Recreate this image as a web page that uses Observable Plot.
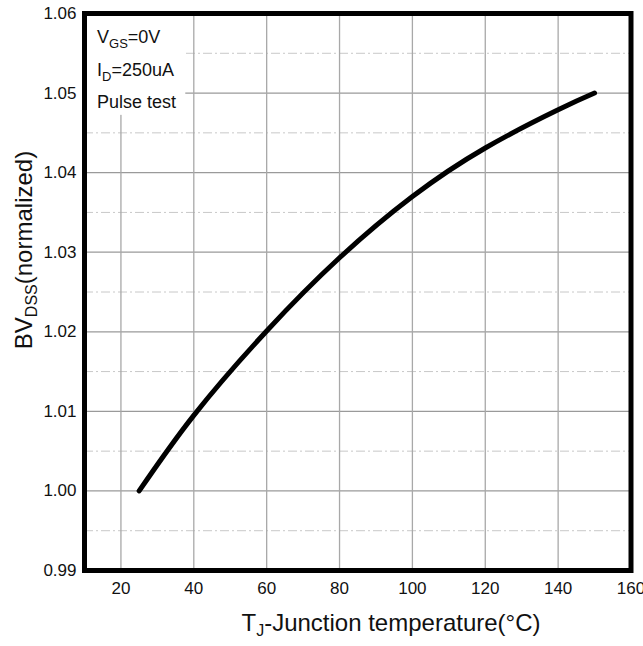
<!DOCTYPE html>
<html>
<head>
<meta charset="utf-8">
<script src="https://cdn.jsdelivr.net/npm/d3@7"></script>
<script src="https://cdn.jsdelivr.net/npm/@observablehq/plot@0.6"></script>
<style>
  html, body { margin: 0; padding: 0; background: #fff; }
  #chart svg { display: block; }
</style>
</head>
<body>
<div id="chart"></div>
<script>
// Junction temperature (°C)
const temps = [25, 40, 60, 80, 100, 120, 140, 150];
// Normalized BVDSS
const bvdss = [1.000, 1.0095, 1.0201, 1.0293, 1.0370, 1.0431, 1.0479, 1.0500];

const xTicks = [20, 40, 60, 80, 100, 120, 140, 160];
const xGrid = [20, 40, 60, 80, 100, 120, 140];
const yTicks = [0.99, 1.00, 1.01, 1.02, 1.03, 1.04, 1.05, 1.06];
const yMinor = [0.995, 1.005, 1.015, 1.025, 1.035, 1.045, 1.055];
const noteBox = [{x1: 10, x2: 37.8, y1: 1.0472, y2: 1.06}];

const data = temps.map((t, i) => ({t, v: bvdss[i]}));

const chart = Plot.plot({
  width: 643,
  height: 646,
  marginLeft: 84,
  marginRight: 12.5,
  marginTop: 13,
  marginBottom: 76,
  style: {fontFamily: "'Liberation Sans', Arial, sans-serif", fontSize: "17px", color: "#111", background: "#fff"},
  x: {domain: [10, 160]},
  y: {domain: [0.99, 1.06]},
  marks: [
    Plot.ruleY(yMinor, {stroke: "#c8c8c8", strokeWidth: 1, strokeDasharray: "9,3,2,3"}),
    Plot.ruleY(yTicks, {stroke: "#9a9a9a", strokeWidth: 1.2}),
    Plot.ruleX(xGrid, {stroke: "#a8a8a8", strokeWidth: 1.3}),
    Plot.rect(noteBox, {x1: "x1", x2: "x2", y1: "y1", y2: "y2", fill: "#fff"}),
    Plot.line(data, {x: "t", y: "v", curve: "natural", stroke: "#000", strokeWidth: 5}),
    Plot.frame({stroke: "#000", strokeWidth: 5}),
    Plot.axisX({ticks: xTicks, tickSize: 0, tickPadding: 11, label: null, tickFormat: d => String(d)}),
    Plot.axisY({ticks: yTicks, tickSize: 0, tickPadding: 8, label: null, tickFormat: d3.format(".2f")})
  ]
});

document.getElementById("chart").appendChild(chart);

const svg = d3.select(chart);
const font = "'Liberation Sans', Arial, sans-serif";

// Y axis label
const ylab = svg.append("text")
  .attr("transform", "translate(32,250) rotate(-90)")
  .attr("text-anchor", "middle")
  .attr("font-family", font)
  .attr("font-size", 24)
  .attr("fill", "#111");
ylab.append("tspan").text("BV");
ylab.append("tspan").attr("font-size", 16).attr("dy", 5).text("DSS");
ylab.append("tspan").attr("dy", -5).text("(normalized)");

// X axis label
const xlab = svg.append("text")
  .attr("x", 391).attr("y", 631)
  .attr("text-anchor", "middle")
  .attr("font-family", font)
  .attr("font-size", 24)
  .attr("fill", "#111");
xlab.append("tspan").text("T");
xlab.append("tspan").attr("font-size", 16).attr("dy", 5).text("J");
xlab.append("tspan").attr("dy", -5).text("-Junction temperature(°C)");

// Annotation
const ann = svg.append("g")
  .attr("font-family", font)
  .attr("font-size", 18)
  .attr("text-anchor", "start")
  .attr("fill", "#111");
const l1 = ann.append("text").attr("x", 97).attr("y", 43);
l1.append("tspan").text("V");
l1.append("tspan").attr("font-size", 13).attr("dy", 5).text("GS");
l1.append("tspan").attr("dy", -5).text("=0V");
const l2 = ann.append("text").attr("x", 97).attr("y", 76);
l2.append("tspan").text("I");
l2.append("tspan").attr("font-size", 13).attr("dy", 5).text("D");
l2.append("tspan").attr("dy", -5).text("=250uA");
ann.append("text").attr("x", 97).attr("y", 108).text("Pulse test");
</script>
</body>
</html>
